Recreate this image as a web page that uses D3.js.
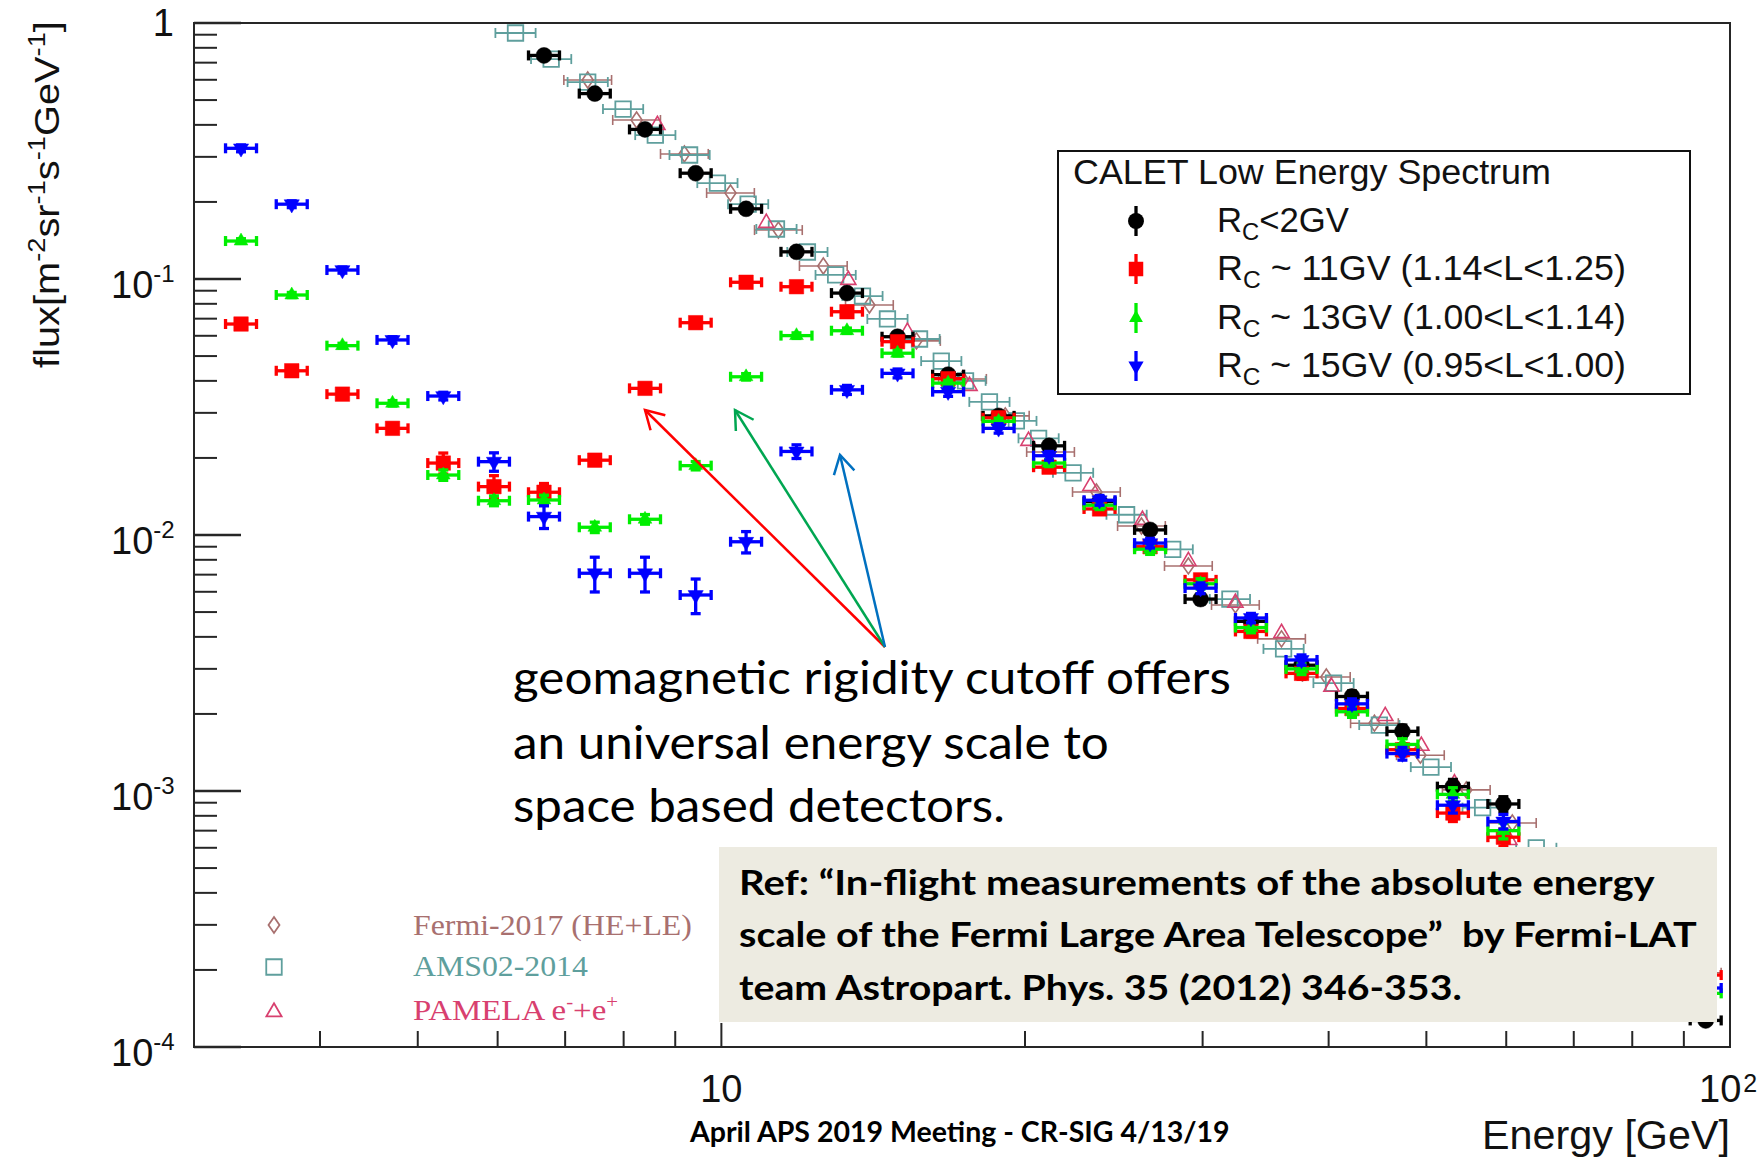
<!DOCTYPE html>
<html>
<head>
<meta charset="utf-8">
<script src="https://cdn.jsdelivr.net/npm/d3@7"></script>
<style>
  html, body { margin: 0; padding: 0; background: #ffffff; }
  svg { display: block; }
  text { white-space: pre; }
</style>
</head>
<body>
<svg id="chart" width="1759" height="1159"></svg>
<script>
// ---------------- data ----------------
// Axis ranges
const energyRange = [3.0, 100];      // GeV
const fluxRange = [1e-4, 1];         // m^-2 sr^-1 s^-1 GeV^-1

// CALET energy bins (GeV)
const caletEnergy = [3.34, 3.75, 4.21, 4.72, 5.30, 5.95, 6.67, 7.49, 8.40, 9.43,
  10.58, 11.87, 13.32, 14.95, 16.78, 18.83, 21.13, 23.71, 26.61, 29.86,
  33.50, 37.60, 42.19, 47.34, 53.12, 59.61, 94.6];
// half-width of the plotted energy bar (multiplicative)
const caletBinHalf = 1.036;

// R_C < 2GV
const fluxRcBelow2 = [null, null, null, null, null, null, 0.747, 0.530, 0.384, 0.259,
  0.188, 0.1277, 0.0881, 0.0595, 0.0423, 0.0292, 0.0223, 0.0135, 0.01047, 0.00562,
  0.0046, 0.0031, 0.00234, 0.00171, 0.00104, 0.00089, 0.000127];
const errRcBelow2 = [null, null, null, null, null, null, 0.02, 0.015, 0.01, 0.007,
  0.005, 0.0035, 0.0025, 0.0017, 0.0012, 0.0009, 0.0007, 0.0005, 0.0004, 0.00025,
  0.0002, 0.00015, 0.00012, 0.0001, 0.00007, 0.00006, 0.000004];

// R_C ~ 11GV (1.14<L<1.25)
const fluxRc11 = [0.0667, 0.0438, 0.0355, 0.0261, 0.0191, 0.01545, 0.01469, 0.0196, 0.0374, 0.0675,
  0.0971, 0.0933, 0.0745, 0.0569, 0.0408, 0.0287, 0.0184, 0.01264, 0.0090, 0.00668,
  0.0042, 0.00288, 0.0021, 0.00145, 0.00082, 0.00066, 0.000191];
const errRc11 = [0.002, 0.0015, 0.0012, 0.001, 0.0018, 0.0016, 0.0012, 0.0009, 0.0012, 0.0016,
  0.002, 0.002, 0.0018, 0.0014, 0.001, 0.0008, 0.0006, 0.0005, 0.0004, 0.0003,
  0.0002, 0.00015, 0.0001, 0.00008, 0.00006, 0.00005, 0.00002];

// R_C ~ 13GV (1.00<L<1.14)
const fluxRc13 = [0.1407, 0.0866, 0.0549, 0.0327, 0.01715, 0.01361, 0.0137, 0.01072, 0.01152, 0.01866,
  0.0415, 0.0601, 0.0628, 0.0513, 0.0392, 0.0278, 0.0191, 0.01307, 0.0088, 0.00645,
  0.00435, 0.0030, 0.00204, 0.00152, 0.00097, 0.0007, 0.000162];
const errRc13 = [0.003, 0.002, 0.0012, 0.0008, 0.0008, 0.0006, 0.0006, 0.0005, 0.0005, 0.0007,
  0.0012, 0.0015, 0.0015, 0.0013, 0.001, 0.0008, 0.0006, 0.0005, 0.0004, 0.0003,
  0.0002, 0.00015, 0.0001, 0.00008, 0.00006, 0.00005, 0.00002];

// R_C ~ 15GV (0.95<L<1.00)
const fluxRc15 = [0.324, 0.196, 0.1084, 0.0578, 0.0349, 0.01934, 0.0118, 0.00709, 0.00709, 0.00583,
  0.00941, 0.0212, 0.0369, 0.0428, 0.0363, 0.0261, 0.0204, 0.01367, 0.0093, 0.0062,
  0.00474, 0.00325, 0.00219, 0.0014, 0.00088, 0.00076, 0.00017];
const errRc15 = [0.010, 0.006, 0.003, 0.0017, 0.0012, 0.0016, 0.0012, 0.0011, 0.0011, 0.0009,
  0.0009, 0.0013, 0.0015, 0.0017, 0.0015, 0.0011, 0.0008, 0.0006, 0.0004, 0.0003,
  0.0002, 0.00015, 0.0001, 0.00008, 0.00006, 0.00005, 0.00002];

// Fermi-2017 (HE+LE)
const fermiEnergy = [7.37, 8.24, 9.19, 10.21, 11.39, 12.62, 14.02, 15.61, 17.34, 19.12,
  21.20, 23.54, 26.09, 29.04, 32.33, 35.92, 39.79, 44.41, 49.32, 54.77, 60.84, 92.8];
const fermiFlux = [0.599, 0.418, 0.308, 0.2168, 0.1553, 0.1124, 0.0791, 0.0573, 0.0407, 0.0292,
  0.0211, 0.01472, 0.01084, 0.00757, 0.00533, 0.00393, 0.00279, 0.00184, 0.00138, 0.00101, 0.00075, 0.000195];
const fermiBinHalf = 1.056;

// AMS02-2014
const amsEnergy = [6.25, 6.78, 7.37, 7.99, 8.60, 9.30, 9.91, 10.63, 11.34, 12.17,
  12.98, 13.80, 14.61, 15.72, 16.52, 17.46, 18.44, 19.61, 20.63, 22.32,
  25.22, 28.02, 31.93, 36.09, 40.45, 44.91, 50.52, 56.85, 64.26];
const amsFlux = [0.914, 0.723, 0.588, 0.461, 0.365, 0.305, 0.237, 0.196, 0.1568, 0.1275,
  0.1037, 0.0858, 0.0698, 0.0583, 0.0478, 0.0400, 0.0331, 0.0279, 0.02386, 0.0175,
  0.0120, 0.00879, 0.00562, 0.00359, 0.00264, 0.00181, 0.00124, 0.000861, 0.0006];
const amsBinHalf = 1.047;

// PAMELA e- + e+
const pamelaEnergy = [8.64, 11.08, 13.36, 15.29, 17.62, 20.16, 23.22, 26.15, 29.04, 32.33,
  35.92, 40.26, 45.52, 49.43, 53.31, 60.42];
const pamelaFlux = [0.3995, 0.1655, 0.0991, 0.0621, 0.0382, 0.0233, 0.01553, 0.01145, 0.00791, 0.00543,
  0.00414, 0.00255, 0.00196, 0.0015, 0.00107, 0.000643];

// Axis tick labels
const yTickLabels = [
  { v: 1, base: "1", exp: null },
  { v: 1e-1, base: "10", exp: "-1" },
  { v: 1e-2, base: "10", exp: "-2" },
  { v: 1e-3, base: "10", exp: "-3" },
  { v: 1e-4, base: "10", exp: "-4" }
];
const xTickLabels = [
  { v: 10, base: "10", exp: null },
  { v: 100, base: "10", exp: "2" }
];

// Legend texts
const caletLegendTitle = "CALET Low Energy Spectrum";
const caletLegendRows = [
  { sub: "C", rest: "<2GV" },
  { sub: "C", rest: " ~ 11GV (1.14<L<1.25)" },
  { sub: "C", rest: " ~ 13GV (1.00<L<1.14)" },
  { sub: "C", rest: " ~ 15GV (0.95<L<1.00)" }
];
const noteLines = [
  "geomagnetic rigidity cutoff offers",
  "an universal energy scale to",
  "space based detectors."
];
const refLines = [
  "Ref: \u201CIn-flight measurements of the absolute energy",
  "scale of the Fermi Large Area Telescope\u201D  by Fermi-LAT",
  "team Astropart. Phys. 35 (2012) 346-353."
];
const footerText = "April APS 2019 Meeting - CR-SIG 4/13/19";

// ---------------- drawing ----------------
const svg = d3.select("#chart");
const plot = { left: 194, right: 1730, top: 23, bottom: 1047 };
const SANS = "'Liberation Sans', Arial, Helvetica, sans-serif";
const SERIF = "'Liberation Serif', 'Times New Roman', serif";
const HUMAN = "Lato, 'Open Sans', sans-serif";

const x = d3.scaleLog().domain(energyRange).range([plot.left, plot.right]);
const y = d3.scaleLog().domain(fluxRange).range([plot.bottom, plot.top]);

svg.append("rect").attr("width", 1759).attr("height", 1159).attr("fill", "#ffffff");

const defs = svg.append("defs");
defs.append("filter").attr("id", "soft").attr("x", "-20%").attr("y", "-20%").attr("width", "140%").attr("height", "140%")
  .append("feGaussianBlur").attr("stdDeviation", 0.6);

// text whose advance is stretched to a given width
function fitText(parent, px, py, width, build, opts = {}) {
  const g = parent.append("g")
    .attr("transform", `translate(${px},${py}) rotate(${opts.rotate || 0})`);
  const t = g.append("text").attr("x", 0).attr("y", 0)
    .attr("text-anchor", opts.anchor || "start");
  build(t);
  const w = t.node().getComputedTextLength();
  if (w > 0) t.attr("transform", `scale(${width / w},1)`);
  return t;
}

// ---- axes ----
const axisG = svg.append("g");
const AX = "#262626";
axisG.append("rect")
  .attr("x", plot.left).attr("y", plot.top)
  .attr("width", plot.right - plot.left).attr("height", plot.bottom - plot.top)
  .attr("fill", "none").attr("stroke", AX).attr("stroke-width", 2);

const isDecade = v => Math.abs(Math.log10(v) - Math.round(Math.log10(v))) < 1e-9;

y.ticks().forEach(v => {
  const len = isDecade(v) ? 47 : 23;
  axisG.append("line")
    .attr("x1", plot.left).attr("x2", plot.left + len)
    .attr("y1", y(v)).attr("y2", y(v))
    .attr("stroke", AX).attr("stroke-width", isDecade(v) ? 2.4 : 2);
});
x.ticks().filter(v => v > energyRange[0] * 1.001).forEach(v => {
  const len = isDecade(v) ? 24 : 16;
  axisG.append("line")
    .attr("x1", x(v)).attr("x2", x(v))
    .attr("y1", plot.bottom).attr("y2", plot.bottom - len)
    .attr("stroke", AX).attr("stroke-width", 2);
});

// y tick labels
yTickLabels.forEach(d => {
  const t = axisG.append("text")
    .attr("font-family", SANS).attr("font-size", 38).attr("fill", "#111");
  if (d.exp === null) {
    t.attr("x", 174).attr("y", y(d.v) + 13).attr("text-anchor", "end").text(d.base);
  } else {
    t.attr("x", 111).attr("y", y(d.v) + 19);
    t.append("tspan").text(d.base);
    t.append("tspan").attr("font-size", 24).attr("dy", -16).text(d.exp);
  }
});
// x tick labels
xTickLabels.forEach(d => {
  const t = axisG.append("text")
    .attr("font-family", SANS).attr("font-size", 38).attr("fill", "#111")
    .attr("y", 1102);
  if (d.exp === null) {
    t.attr("x", x(d.v)).attr("text-anchor", "middle").text(d.base);
  } else {
    t.attr("x", 1699);
    t.append("tspan").text(d.base);
    t.append("tspan").attr("font-size", 25).attr("dy", -10).attr("dx", 2).text(d.exp);
  }
});

// axis titles
fitText(axisG, 1730, 1149, 248, t => {
  t.attr("font-family", SANS).attr("font-size", 40).attr("fill", "#111").text("Energy [GeV]");
}, { anchor: "end" });

fitText(axisG, 59, 368, 347, t => {
  t.attr("font-family", SANS).attr("font-size", 35).attr("fill", "#111");
  const parts = [["flux[m", 0], ["-2", 1], ["sr", 0], ["-1", 1], ["s", 0], ["-1", 1], ["GeV", 0], ["-1", 1], ["]", 0]];
  let up = false;
  parts.forEach(([s, sup]) => {
    const sp = t.append("tspan").text(s);
    if (sup && !up) { sp.attr("dy", -14).attr("font-size", 24); up = true; }
    else if (sup) { sp.attr("font-size", 24); }
    else if (up) { sp.attr("dy", 14); up = false; }
  });
}, { rotate: -90 });

// ---- marker shapes ----
const sym = {
  circle: d3.symbol().type(d3.symbolCircle).size(200)(),
  square: d3.symbol().type(d3.symbolSquare).size(210)(),
  triUp: d3.symbol().type(d3.symbolTriangle).size(82)(),
  triDown: d3.symbol().type(d3.symbolTriangle).size(100)(),
  openSquare: d3.symbol().type(d3.symbolSquare).size(240)(),
  openTri: d3.symbol().type(d3.symbolTriangle).size(100)()
};
const diamondPath = "M0,-8L5.5,0L0,8L-5.5,0Z";

function markerTransform(kind, cx, cy) {
  if (kind === "triDown") return `translate(${cx},${cy}) rotate(180)`;
  return `translate(${cx},${cy})`;
}

// ---- data series with error bars ----
function drawSeries(energy, flux, err, o) {
  const g = svg.append("g");
  const pts = energy.map((e, i) => ({ e, f: flux[i], d: err ? err[i] : null }))
    .filter(p => p.f !== null && p.f !== undefined);
  const cap = o.cap;
  pts.forEach(p => {
    const cx = x(p.e), cy = y(p.f);
    if (o.binHalf) {
      const x0 = x(p.e / o.binHalf), x1 = x(p.e * o.binHalf);
      g.append("line").attr("x1", x0).attr("x2", x1).attr("y1", cy).attr("y2", cy)
        .attr("stroke", o.color).attr("stroke-width", o.lw);
      [x0, x1].forEach(xx => g.append("line")
        .attr("x1", xx).attr("x2", xx).attr("y1", cy - cap).attr("y2", cy + cap)
        .attr("stroke", o.color).attr("stroke-width", o.lw));
    }
    if (p.d) {
      const y0 = y(p.f + p.d), y1 = y(Math.max(p.f - p.d, 1e-6));
      g.append("line").attr("x1", cx).attr("x2", cx).attr("y1", y0).attr("y2", y1)
        .attr("stroke", o.color).attr("stroke-width", o.lw);
      [y0, y1].forEach(yy => g.append("line")
        .attr("x1", cx - cap).attr("x2", cx + cap).attr("y1", yy).attr("y2", yy)
        .attr("stroke", o.color).attr("stroke-width", o.lw));
    }
  });
  g.selectAll("path.mk").data(pts).join("path").attr("class", "mk")
    .attr("d", o.path)
    .attr("transform", p => markerTransform(o.kind, x(p.e), y(p.f)))
    .attr("fill", o.open ? "none" : o.color)
    .attr("stroke", o.color)
    .attr("stroke-width", o.open ? o.lw : 0.5);
  return g;
}

const colFermi = "#a8706f";
const colAms = "#5f9f9d";
const colPamela = "#d8406f";
const colBlack = "#000000", colRed = "#ff0000", colGreen = "#00ee00", colBlue = "#0000ff";

// reference measurements
drawSeries(fermiEnergy, fermiFlux, null, { color: colFermi, binHalf: fermiBinHalf, cap: 5, lw: 1.6, path: diamondPath, kind: "dia", open: true });
drawSeries(amsEnergy, amsFlux, null, { color: colAms, binHalf: amsBinHalf, cap: 5, lw: 1.8, path: sym.openSquare, kind: "sq", open: true });
drawSeries(pamelaEnergy, pamelaFlux, null, { color: colPamela, binHalf: null, cap: 4, lw: 1.6, path: sym.openTri, kind: "tri", open: true });

// CALET spectra
drawSeries(caletEnergy, fluxRcBelow2, errRcBelow2, { color: colBlack, binHalf: caletBinHalf, cap: 5, lw: 3.3, path: sym.circle, kind: "c" })
  .attr("filter", "url(#soft)");
drawSeries(caletEnergy, fluxRc11, errRc11, { color: colRed, binHalf: caletBinHalf, cap: 5, lw: 3.3, path: sym.square, kind: "sq" });
drawSeries(caletEnergy, fluxRc13, errRc13, { color: colGreen, binHalf: caletBinHalf, cap: 5, lw: 3.3, path: sym.triUp, kind: "tri" });
drawSeries(caletEnergy, fluxRc15, errRc15, { color: colBlue, binHalf: caletBinHalf, cap: 5, lw: 3.3, path: sym.triDown, kind: "triDown" });

// ---- CALET legend ----
const lg = svg.append("g");
lg.append("rect").attr("x", 1058).attr("y", 151).attr("width", 632).attr("height", 243)
  .attr("fill", "#ffffff").attr("stroke", "#111").attr("stroke-width", 2);
fitText(lg, 1073, 184, 478, t => {
  t.attr("font-family", SANS).attr("font-size", 35).attr("fill", "#111").text(caletLegendTitle);
});
const legendMarks = [
  { color: colBlack, path: sym.circle, kind: "c" },
  { color: colRed, path: sym.square, kind: "sq" },
  { color: colGreen, path: sym.triUp, kind: "tri" },
  { color: colBlue, path: sym.triDown, kind: "triDown" }
];
const rowY = [221, 269, 318, 366];
const rowW = [132, 409, 409, 409];
caletLegendRows.forEach((r, i) => {
  const cy = rowY[i], m = legendMarks[i];
  lg.append("line").attr("x1", 1136).attr("x2", 1136).attr("y1", cy - 15).attr("y2", cy + 15)
    .attr("stroke", m.color).attr("stroke-width", 3.3);
  lg.append("path").attr("d", m.path).attr("transform", markerTransform(m.kind, 1136, cy))
    .attr("fill", m.color);
  fitText(lg, 1217, cy + 11, rowW[i], t => {
    t.attr("font-family", SANS).attr("font-size", 35).attr("fill", "#111");
    t.append("tspan").text("R");
    t.append("tspan").attr("font-size", 24).attr("dy", 8).text(r.sub);
    t.append("tspan").attr("dy", -8).text(r.rest);
  });
});

// ---- reference data legend ----
const rl = svg.append("g");
const refLegend = [
  { label: "Fermi-2017 (HE+LE)", color: colFermi, path: diamondPath, cy: 925, base: 935, w: 279 },
  { label: "AMS02-2014", color: colAms, path: sym.openSquare, cy: 967, base: 976, w: 175 },
  { label: "PAMELA", color: colPamela, path: sym.openTri, cy: 1012, base: 1020, w: 205 }
];
refLegend.forEach((d, i) => {
  rl.append("path").attr("d", d.path).attr("transform", `translate(274,${d.cy})`)
    .attr("fill", "none").attr("stroke", d.color).attr("stroke-width", 1.8);
  fitText(rl, 413, d.base, d.w, t => {
    t.attr("font-family", SERIF).attr("font-size", 30).attr("fill", d.color);
    if (i < 2) { t.text(d.label); }
    else {
      t.append("tspan").text(d.label + " e");
      t.append("tspan").attr("font-size", 19).attr("dy", -12).text("-");
      t.append("tspan").attr("dy", 12).text("+e");
      t.append("tspan").attr("font-size", 19).attr("dy", -12).text("+");
    }
  });
});

// ---- annotation ----
const an = svg.append("g");
const noteY = [694, 759, 822], noteW = [718, 596, 492];
noteLines.forEach((s, i) => fitText(an, 513, noteY[i], noteW[i], t => {
  t.attr("font-family", HUMAN).attr("font-size", 46).attr("fill", "#000").text(s);
}));

const apex = [885, 647];
const arrows = [
  { tip: [645, 410], color: "#ff0000" },
  { tip: [735, 410], color: "#00a651" },
  { tip: [840, 455], color: "#0070c0" }
];
arrows.forEach(a => {
  an.append("line").attr("x1", apex[0]).attr("y1", apex[1]).attr("x2", a.tip[0]).attr("y2", a.tip[1])
    .attr("stroke", a.color).attr("stroke-width", 2.5);
  const ang = Math.atan2(apex[1] - a.tip[1], apex[0] - a.tip[0]);
  const L = 21, spread = Math.PI / 6;
  const p1 = [a.tip[0] + L * Math.cos(ang - spread), a.tip[1] + L * Math.sin(ang - spread)];
  const p2 = [a.tip[0] + L * Math.cos(ang + spread), a.tip[1] + L * Math.sin(ang + spread)];
  an.append("path").attr("d", `M${p1[0]},${p1[1]}L${a.tip[0]},${a.tip[1]}L${p2[0]},${p2[1]}`)
    .attr("fill", "none").attr("stroke", a.color).attr("stroke-width", 2.5)
    .attr("stroke-linejoin", "miter");
});

// ---- reference box ----
const rb = svg.append("g");
rb.append("rect").attr("x", 719).attr("y", 847).attr("width", 998).attr("height", 175)
  .attr("fill", "#edebe1");
const refY = [895, 947, 1000], refW = [916, 958, 723];
refLines.forEach((s, i) => fitText(rb, 739, refY[i], refW[i], t => {
  t.attr("font-family", HUMAN).attr("font-weight", 700).attr("font-size", 35).attr("fill", "#000").text(s);
}));

// ---- footer ----
fitText(svg, 690, 1142, 540, t => {
  t.attr("font-family", HUMAN).attr("font-weight", 700).attr("font-size", 28).attr("fill", "#000").text(footerText);
});
</script>
</body>
</html>
